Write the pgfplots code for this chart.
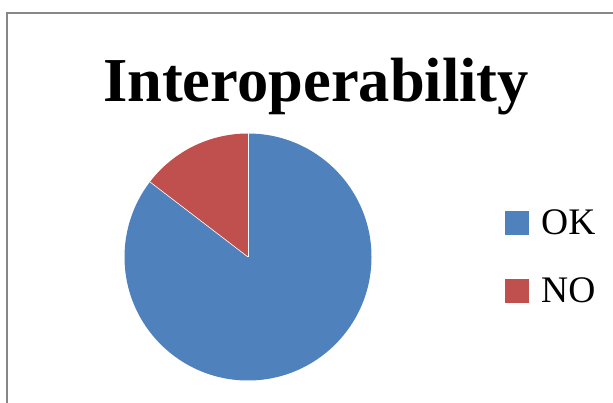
\documentclass[border=0pt]{standalone}
\usepackage{pgfplots}
\pgfplotsset{compat=1.18}
\usepackage{pgfplotstable}
\usepackage{fontspec}
\setmainfont{Liberation Serif}

\definecolor{okblue}{HTML}{4F81BD}
\definecolor{nored}{HTML}{C0504D}
\definecolor{framegray}{HTML}{878787}

% share of answers
\pgfplotstableread{
label share
OK 85.4
NO 14.6
}\pietable

\begin{document}
\begin{tikzpicture}
\useasboundingbox (0,0) rectangle (613bp,403bp);
\draw[framegray, line width=1.5bp] (7bp,-2bp) -- (7bp,390bp) -- (616bp,390bp);
\node[anchor=base, inner sep=0pt, font=\bfseries\fontsize{62.5bp}{70bp}\selectfont]
  at (316bp,301bp) {Interoperability};

\pgfplotstablegetelem{0}{share}\of\pietable \let\okv\pgfplotsretval
\pgfplotstablegetelem{1}{share}\of\pietable \let\nov\pgfplotsretval
\pgfmathsetmacro{\okfrac}{\okv/(\okv+\nov)}
\pgfmathsetmacro{\okend}{90-360*\okfrac}

\begin{axis}[
    at={(248bp,146bp)}, anchor=center,
    width=296.4bp, height=296.4bp, scale only axis,
    xmin=-1.2, xmax=1.2, ymin=-1.2, ymax=1.2,
    hide axis, clip=false,
    legend image code/.code={\fill[#1] (0bp,-12bp) rectangle (24bp,12bp); \path (36bp,0bp);},
    legend cell align=left,
    legend style={at={(1.367,0.659)}, anchor=north west, draw=none, fill=none,
      inner sep=0pt, row sep=41.5bp,
      nodes={inner sep=0pt},
      font=\fontsize{37.5bp}{40bp}\selectfont},
]
\addlegendimage{fill=okblue, draw=none}
\addlegendentry{OK}
\addlegendimage{fill=nored, draw=none}
\addlegendentry{NO}

\fill[okblue] (axis cs:0,0) -- +(90:123.5bp)
  arc[start angle=90, end angle=\okend, radius=123.5bp] -- cycle;
\fill[nored] (axis cs:0,0) -- +(\okend:123.5bp)
  arc[start angle=\okend, end angle=-270, radius=123.5bp] -- cycle;
\draw[white, line width=0.6bp] (axis cs:0,0) -- +(90:123.5bp);
\draw[white, line width=0.6bp] (axis cs:0,0) -- +(\okend:123.5bp);
\end{axis}
\end{tikzpicture}
\end{document}
